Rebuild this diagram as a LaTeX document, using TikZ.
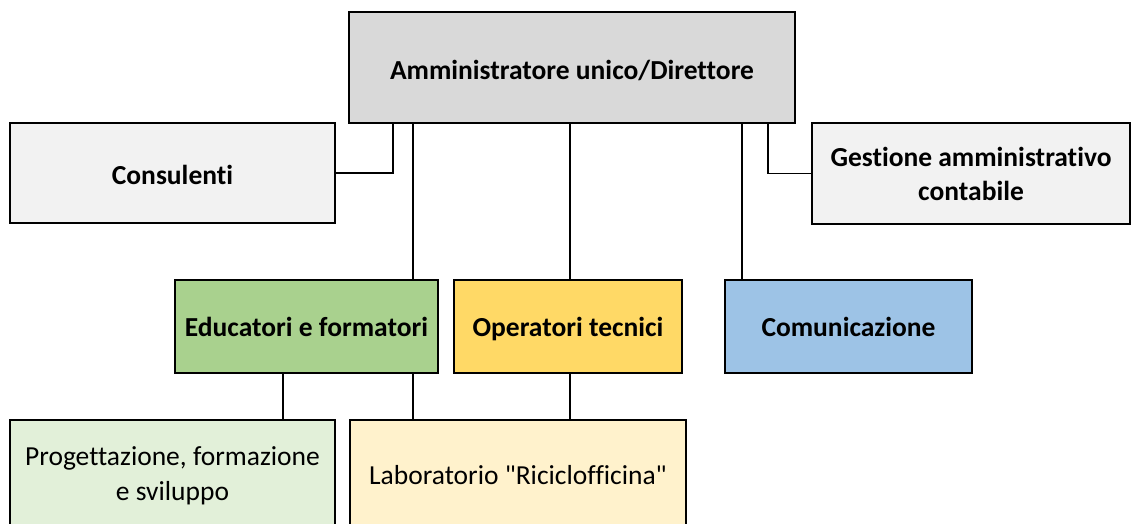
\documentclass[tikz,border=0pt]{standalone}
\usepackage{fontspec}
\newfontfamily\carl{Carlito}[Ligatures=NoCommon]
\begin{document}
\begin{tikzpicture}[x=1pt,y=-1pt,
  box/.style={draw=black,line width=1.7pt,align=center,inner sep=0pt,font=\carl\fontsize{27.5}{35}\selectfont},
  bbox/.style={box,font=\carl\fontsize{27.5}{34}\selectfont\bfseries},
  one/.style={text height=22pt,text depth=2pt},
  conn/.style={draw=black,line width=1.7pt}]
\useasboundingbox (0,0) rectangle (1135,524);
\clip (0,0) rectangle (1135,524);
\definecolor{cTop}{HTML}{D9D9D9}
\definecolor{cSide}{HTML}{F2F2F2}
\definecolor{cEdu}{HTML}{A9D18E}
\definecolor{cOp}{HTML}{FFD966}
\definecolor{cCom}{HTML}{9DC3E6}
\definecolor{cProg}{HTML}{E2F0D9}
\definecolor{cLab}{HTML}{FFF2CC}
\node[bbox,text height=24.5pt,text depth=0.5pt,fill=cTop,minimum width=446,minimum height=111] (top) at (572,67.5) {Amministratore unico/Direttore};
\node[bbox,text height=23.5pt,text depth=0.5pt,fill=cSide,minimum width=325,minimum height=100] (cons) at (172.5,173) {Consulenti};
\node[bbox,fill=cSide,minimum width=318,minimum height=101] (gest) at (971,173.5) {Gestione amministrativo\\contabile};
\node[bbox,one,fill=cEdu,minimum width=263,minimum height=93] (edu) at (306.5,326.5) {Educatori e formatori};
\node[bbox,one,fill=cOp,minimum width=228,minimum height=93] (op) at (568,326.5) {Operatori tecnici};
\node[bbox,one,fill=cCom,minimum width=247,minimum height=93] (com) at (848.5,326.5) {Comunicazione};
\node[box,fill=cProg,minimum width=325,minimum height=112] (prog) at (172.5,476) {Progettazione, formazione\\e sviluppo};
\node[box,text height=19pt,text depth=2pt,fill=cLab,minimum width=336,minimum height=112] (lab) at (518,476) {Laboratorio "Riciclofficina"};
\draw[conn] (top.south -| 393,0) |- (cons.east);
\draw[conn] (top.south -| 768,0) |- (gest.west);
\draw[conn] (top.south -| 413,0) -- (edu.north -| 413,0);
\draw[conn] (top.south -| 570,0) -- (op.north -| 570,0);
\draw[conn] (top.south -| 742,0) -- (com.north -| 742,0);
\draw[conn] (edu.south -| 283,0) -- (prog.north -| 283,0);
\draw[conn] (edu.south -| 413,0) -- (lab.north -| 413,0);
\draw[conn] (op.south -| 570,0) -- (lab.north -| 570,0);
\end{tikzpicture}
\end{document}
